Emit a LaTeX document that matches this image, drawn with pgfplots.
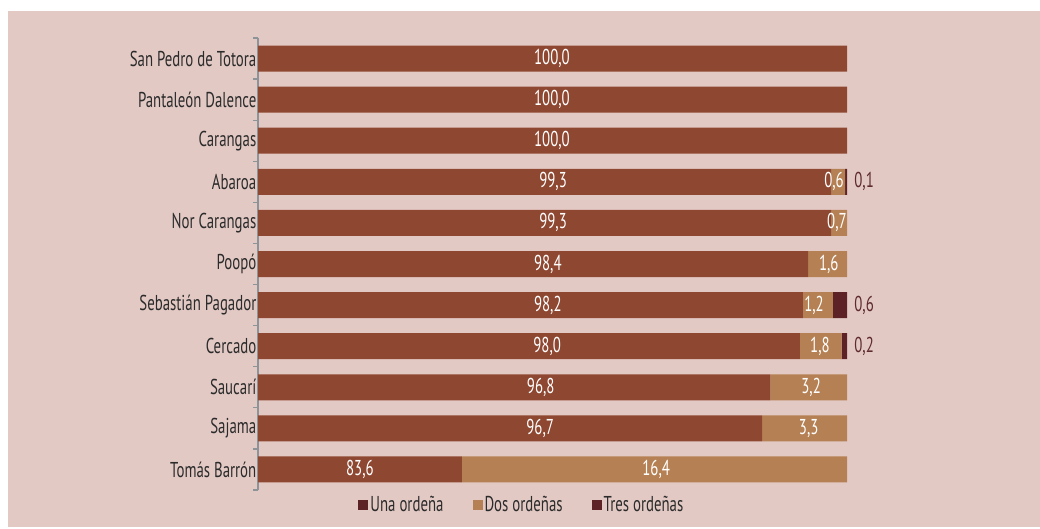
\documentclass[border=0pt]{standalone}
\usepackage{fontspec}
\setmainfont{PT Sans}[FakeStretch=0.69]
\usepackage{pgfplots}
\pgfplotsset{compat=1.18}
\usepackage{pgfplotstable}

\definecolor{bg}{HTML}{E3C9C4}
\definecolor{una}{HTML}{8E4730}
\definecolor{dos}{HTML}{B58154}
\definecolor{tres}{HTML}{5C2226}
\definecolor{axgray}{HTML}{8C9399}
\definecolor{txt}{HTML}{2B2B2B}
\definecolor{outtxt}{HTML}{5E2A2E}

\newcommand\chartfont{\fontsize{21.5pt}{23pt}\selectfont}
\tikzset{
	inlbl/.style={font=\chartfont, text=white, inner sep=0pt},
	outlbl/.style={font=\chartfont, text=outtxt, inner sep=0pt},
}

% drawn segment lengths (as in the picture), row 0 = top
\pgfplotstableread{
idx una  dos  tres
0   100  0    0
1   100  0    0
2   100  0    0
3   97.3 2.4  0.3
4   97.3 2.7  0
5   93.4 6.6  0
6   92.5 5.1  2.4
7   92.0 7.1  0.9
8   87.0 13.0 0
9   85.6 14.4 0
10  34.6 65.4 0
}\datatable

\begin{document}
\begin{tikzpicture}
\fill[white] (0pt,0pt) rectangle (1040pt,529pt);
\fill[bg] (8pt,2pt) rectangle (1040pt,518pt);

\begin{axis}[
	at={(258pt,39pt)}, anchor=south west,
	scale only axis,
	width=589pt, height=452pt,
	xbar stacked,
	bar width=26pt,
	xmin=0, xmax=100,
	ymin=-0.5, ymax=10.5,
	y dir=reverse,
	clip=false,
	axis x line=none,
	axis y line*=left,
	axis line style={axgray, line width=1.4pt, -},
	ytick={0,...,10},
	major tick length=0pt,
	yticklabels={
		San Pedro de Totora,
		Pantaleón Dalence\hspace{1pt},
		Carangas\hspace{10pt},
		Abaroa\hspace{13pt},
		Nor Carangas\hspace{10pt},
		Poopó\hspace{12pt},
		Sebastián Pagador,
		Cercado\hspace{12pt},
		Saucarí\hspace{14pt},
		Sajama\hspace{13pt},
		Tomás Barrón\hspace{7pt}},
	yticklabel style={font=\chartfont, text=txt, inner sep=0pt, xshift=-1.5pt},
	extra y ticks={-0.5,0.5,1.5,2.5,3.5,4.5,5.5,6.5,7.5,8.5,9.5,10.5},
	extra y tick labels={},
	extra y tick style={major tick length=5pt, tick align=outside,
		tick style={axgray, line width=1.2pt}},
	legend style={at={(0.448,-0.033)}, anchor=center, draw=none, fill=none,
		font=\chartfont, text=txt, legend columns=3,
		/tikz/every even column/.append style={column sep=27pt}},
	]

	\addplot[fill=una, draw=none,
		legend image code/.code={\fill[tres] (0pt,-5pt) rectangle (10pt,5pt);}]
		table[x=una, y=idx] {\datatable};
	\addlegendentry{Una ordeña}
	\addplot[fill=dos, draw=none,
		legend image code/.code={\fill[dos] (0pt,-5pt) rectangle (10pt,5pt);}]
		table[x=dos, y=idx] {\datatable};
	\addlegendentry{Dos ordeñas}
	\addplot[fill=tres, draw=none,
		legend image code/.code={\fill[tres] (0pt,-5pt) rectangle (10pt,5pt);}]
		table[x=tres, y=idx] {\datatable};
	\addlegendentry{Tres ordeñas}

	% anchor points for the value labels (drawn after the axis, above the bars)
	\coordinate (u0) at (axis cs:49.9,0);
	\coordinate (u1) at (axis cs:49.9,1);
	\coordinate (u2) at (axis cs:49.9,2);
	\coordinate (u3) at (axis cs:50.1,3);
	\coordinate (u4) at (axis cs:50.1,4);
	\coordinate (u5) at (axis cs:49.2,5);
	\coordinate (u6) at (axis cs:49.2,6);
	\coordinate (u7) at (axis cs:49.1,7);
	\coordinate (u8) at (axis cs:48.0,8);
	\coordinate (u9) at (axis cs:47.9,9);
	\coordinate (u10) at (axis cs:17.3,10);
	\coordinate (d3) at (axis cs:97.8,3);
	\coordinate (d4) at (axis cs:98.3,4);
	\coordinate (d5) at (axis cs:96.9,5);
	\coordinate (d6) at (axis cs:94.4,6);
	\coordinate (d7) at (axis cs:95.4,7);
	\coordinate (d8) at (axis cs:93.9,8);
	\coordinate (d9) at (axis cs:93.5,9);
	\coordinate (d10) at (axis cs:67.6,10);
	\coordinate (t3) at (axis cs:102.9,3);
	\coordinate (t6) at (axis cs:102.9,6);
	\coordinate (t7) at (axis cs:102.9,7);
\end{axis}

\node[inlbl] at (u0) {100,0};
\node[inlbl] at (u1) {100,0};
\node[inlbl] at (u2) {100,0};
\node[inlbl] at (u3) {99,3};
\node[inlbl] at (u4) {99,3};
\node[inlbl] at (u5) {98,4};
\node[inlbl] at (u6) {98,2};
\node[inlbl] at (u7) {98,0};
\node[inlbl] at (u8) {96,8};
\node[inlbl] at (u9) {96,7};
\node[inlbl] at (u10) {83,6};
\node[inlbl] at (d3) {0,6};
\node[inlbl] at (d4) {0,7};
\node[inlbl] at (d5) {1,6};
\node[inlbl] at (d6) {1,2};
\node[inlbl] at (d7) {1,8};
\node[inlbl] at (d8) {3,2};
\node[inlbl] at (d9) {3,3};
\node[inlbl] at (d10) {16,4};
\node[outlbl] at (t3) {0,1};
\node[outlbl] at (t6) {0,6};
\node[outlbl] at (t7) {0,2};

\pgfresetboundingbox
\useasboundingbox (0pt,0pt) rectangle (1040pt,529pt);
\end{tikzpicture}
\end{document}
